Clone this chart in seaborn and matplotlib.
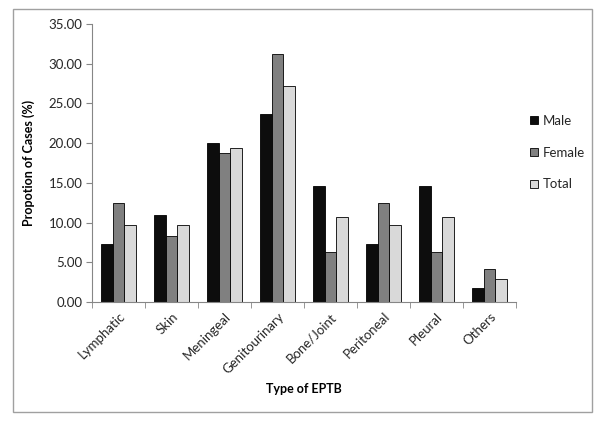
import matplotlib
matplotlib.use("Agg")
import matplotlib.pyplot as plt
import seaborn as sns
import pandas as pd
from matplotlib.patches import Rectangle
from matplotlib.ticker import FormatStrFormatter

categories = ["Lymphatic", "Skin", "Meningeal", "Genitourinary", "Bone/Joint",
              "Peritoneal", "Pleural", "Others"]
male = [7.27, 10.91, 20.00, 23.64, 14.55, 7.27, 14.55, 1.82]
female = [12.50, 8.33, 18.75, 31.25, 6.25, 12.50, 6.25, 4.17]
total = [9.71, 9.71, 19.42, 27.18, 10.68, 9.71, 10.68, 2.91]
series = ["Male", "Female", "Total"]
colors = ["#0d0d0d", "#808080", "#d9d9d9"]

rows = []
for s, vals in zip(series, [male, female, total]):
    for c, v in zip(categories, vals):
        rows.append({"Type": c, "Sex": s, "Value": v})
df = pd.DataFrame(rows)

sns.set_style("white")
plt.rcParams["font.family"] = ["Lato", "DejaVu Sans"]

fig = plt.figure(figsize=(6.0, 4.21), dpi=100)
ax = fig.add_axes([92/600, 1-302/421, (516-92)/600, (302-24)/421])

sns.barplot(data=df, x="Type", y="Value", hue="Sex", palette=colors,
            width=0.66, edgecolor="#000000", linewidth=0.6, ax=ax,
            legend=True, errorbar=None, saturation=1)

ax.set_ylim(0, 35)
ax.set_xlim(-0.5, 7.5)
ax.set_yticks([0, 5, 10, 15, 20, 25, 30, 35])
ax.yaxis.set_major_formatter(FormatStrFormatter("%.2f"))
for sp in ["top", "right"]:
    ax.spines[sp].set_visible(False)
for sp in ["left", "bottom"]:
    ax.spines[sp].set_color("#868686")
    ax.spines[sp].set_linewidth(0.8)

ax.tick_params(axis="y", direction="out", length=4, color="#868686",
               labelsize=9.5, labelcolor="#262626", pad=3, left=True)
ax.tick_params(axis="x", which="major", length=0, labelsize=9.5,
               labelcolor="#262626", pad=6)
ax.set_xticks([i - 0.5 for i in range(9)], minor=True)
ax.tick_params(axis="x", which="minor", direction="out", length=4,
               color="#868686", bottom=True)
plt.setp(ax.get_xticklabels(), rotation=45, ha="right", rotation_mode="anchor")

ax.set_xlabel("Type of EPTB", fontsize=9, fontweight="bold", color="#000000")
ax.xaxis.set_label_coords(0.5, (302-383)/278)
ax.set_ylabel("Propotion of Cases (%)", fontsize=9, fontweight="bold",
              labelpad=10, color="#000000")

leg = ax.legend(loc="upper left", bbox_to_anchor=(518/600, 1-103/421),
                bbox_transform=fig.transFigure, frameon=False, fontsize=9.5,
                handlelength=0.6, handleheight=0.6, handletextpad=0.4,
                labelspacing=1.5)
for h in leg.legend_handles:
    h.set_edgecolor("#000000")
    h.set_linewidth(0.6)

fig.patches.append(Rectangle((13/600, 1-412/421), (592-13)/600, (412-9)/421,
                             transform=fig.transFigure, fill=False,
                             edgecolor="#a0a0a0", linewidth=1.0))

fig.savefig("out.png", dpi=100, facecolor="white")
